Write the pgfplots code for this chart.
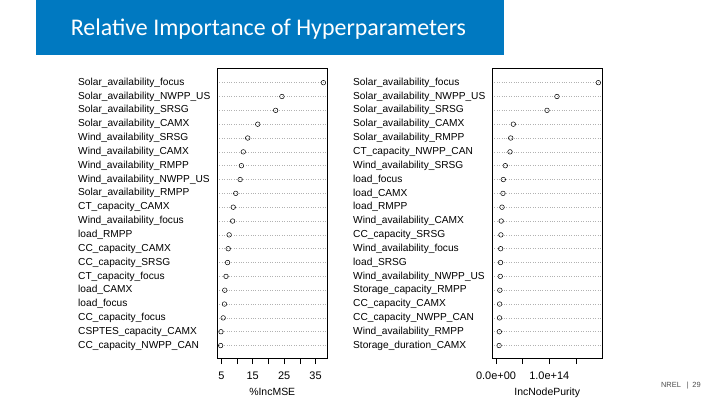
\documentclass[border=0pt]{standalone}
\usepackage{pgfplots}
\pgfplotsset{compat=1.18}
\usepackage{fontspec}
\setmainfont{Liberation Sans}
\newfontfamily\titlefont{Carlito}
\definecolor{nrelblue}{RGB}{0,121,193}

\pgfplotsset{dotstyle/.style={
  scale only axis, width=110.5bp, height=290bp,
  anchor=south west,
  y dir=reverse, ymin=-0.06, ymax=20.9, ytick={1,...,20},
  ymajorgrids,
  major grid style={dash pattern=on 0.6bp off 1.8bp, gray!60, line width=0.5pt},
  y tick style={draw=none},
  major tick length=6bp,
  tick align=outside,
  xtick pos=bottom, ytick pos=left,
  x tick style={black, line width=0.6pt},
  axis line style={line width=0.6pt},
  yticklabel style={anchor=west, inner sep=0pt, xshift=-133bp, font=\fontsize{10.2}{12}\selectfont},
  xticklabel style={font=\fontsize{11}{13}\selectfont, yshift=-4bp},
  xlabel style={font=\fontsize{10.5}{12}\selectfont, yshift=-2bp},
}}
\tikzset{dotmark/.style={only marks, mark=o, mark size=2.3bp, black, mark options={line width=0.5pt}}}

\begin{document}
\begin{tikzpicture}
\path[use as bounding box] (0bp,0bp) rectangle (720bp,-405bp);
\fill[nrelblue] (36bp,0bp) rectangle (504bp,-55bp);
\node[anchor=base west, text=white, font=\titlefont\fontsize{24}{26}\selectfont, inner sep=0] at (70.7bp,-35bp) {Relative Importance of Hyperparameters};
\node[anchor=base east, inner sep=0, text=gray!60!black, font=\fontsize{7.5}{8}\selectfont] at (701bp,-387bp) {NREL \enspace|\enspace 29};

\begin{axis}[dotstyle, at={(217bp,-358bp)},
  xmin=3.63, xmax=38.8,
  xtick={5,10,...,35}, xticklabels={5,,15,,25,,35},
  xlabel={\%IncMSE},
  yticklabels={Solar\_availability\_focus,Solar\_availability\_NWPP\_US,Solar\_availability\_SRSG,Solar\_availability\_CAMX,Wind\_availability\_SRSG,Wind\_availability\_CAMX,Wind\_availability\_RMPP,Wind\_availability\_NWPP\_US,Solar\_availability\_RMPP,CT\_capacity\_CAMX,Wind\_availability\_focus,load\_RMPP,CC\_capacity\_CAMX,CC\_capacity\_SRSG,CT\_capacity\_focus,load\_CAMX,load\_focus,CC\_capacity\_focus,CSPTES\_capacity\_CAMX,CC\_capacity\_NWPP\_CAN},
]
\addplot[dotmark] coordinates {
(37.5,1) (24.3,2) (22.3,3) (16.6,4) (13.4,5) (12.0,6) (11.4,7) (11.0,8) (9.6,9) (8.8,10)
(8.6,11) (7.5,12) (7.2,13) (7.0,14) (6.5,15) (6.1,16) (6.0,17) (5.6,18) (4.9,19) (4.8,20)
};
\end{axis}

\begin{axis}[dotstyle, at={(492bp,-358bp)},
  xmin=-0.075, xmax=1.998,
  xtick={0,0.5,1,1.5}, xticklabels={0.0e+00,,1.0e+14,},
  xlabel={IncNodePurity},
  yticklabels={Solar\_availability\_focus,Solar\_availability\_NWPP\_US,Solar\_availability\_SRSG,Solar\_availability\_CAMX,Solar\_availability\_RMPP,CT\_capacity\_NWPP\_CAN,Wind\_availability\_SRSG,load\_focus,load\_CAMX,load\_RMPP,Wind\_availability\_CAMX,CC\_capacity\_SRSG,Wind\_availability\_focus,load\_SRSG,Wind\_availability\_NWPP\_US,Storage\_capacity\_RMPP,CC\_capacity\_CAMX,CC\_capacity\_NWPP\_CAN,Wind\_availability\_RMPP,Storage\_duration\_CAMX},
]
\addplot[dotmark] coordinates {
(1.92,1) (1.144,2) (0.957,3) (0.325,4) (0.276,5) (0.263,6) (0.174,7) (0.137,8) (0.131,9) (0.113,10)
(0.098,11) (0.092,12) (0.088,13) (0.085,14) (0.080,15) (0.072,16) (0.068,17) (0.066,18) (0.062,19) (0.058,20)
};
\end{axis}
\end{tikzpicture}
\end{document}
